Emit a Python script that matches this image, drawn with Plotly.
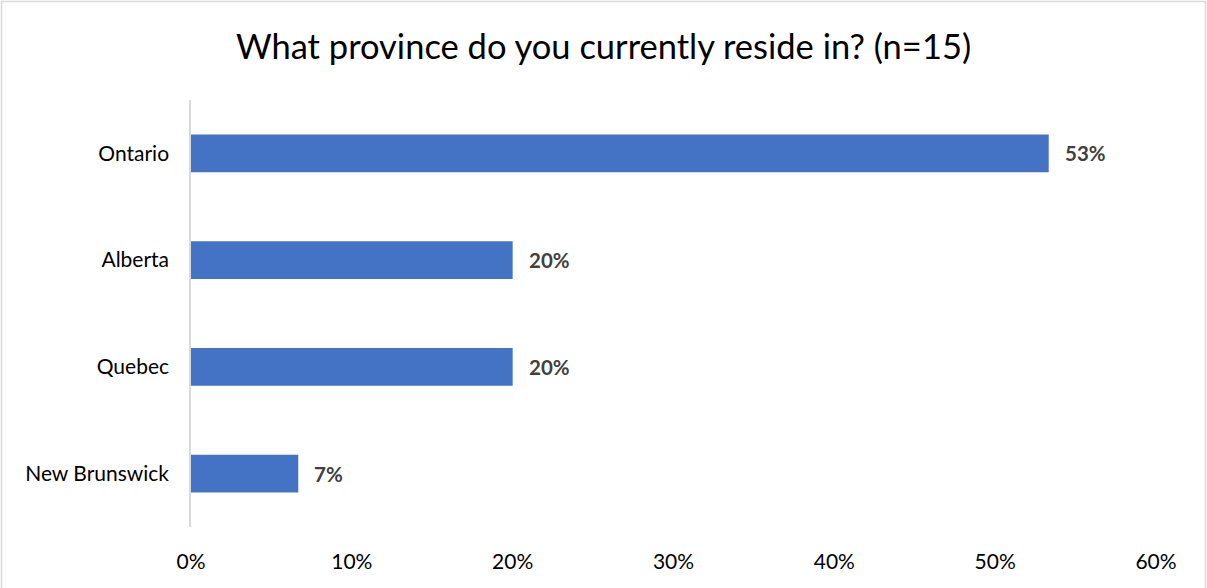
import plotly.graph_objects as go

# Survey responses: share of respondents by province (n=15)
provinces = ["Ontario", "Alberta", "Quebec", "New Brunswick"]
shares = [0.5333, 0.20, 0.20, 0.0667]
tick_values = [0, 0.1, 0.2, 0.3, 0.4, 0.5, 0.6]
tick_labels = ["0%", "10%", "20%", "30%", "40%", "50%", "60%"]

W, H = 1207, 588
M = dict(l=191, r=51, t=100, b=61)
FONT = "Lato, 'Open Sans', sans-serif"
BAR_COLOR = "#4472C4"

fig = go.Figure(
    go.Bar(
        x=shares,
        y=provinces,
        orientation="h",
        marker=dict(color=BAR_COLOR, line=dict(width=0)),
        hovertemplate="%{y}: %{x:.0%}<extra></extra>",
    )
)

# value labels to the right of each bar
for p, s in zip(provinces, shares):
    fig.add_annotation(
        x=s, y=p, xref="x", yref="y",
        text=f"<b>{s:.0%}</b>",
        showarrow=False, xanchor="left", yanchor="middle", xshift=14,
        font=dict(family=FONT, size=20.5, color="#404040"),
    )

# light frame around the whole chart area (bottom edge runs past the page)
pw = W - M["l"] - M["r"]
ph = H - M["t"] - M["b"]
fig.add_shape(
    type="rect", xref="paper", yref="paper",
    x0=(1.5 - M["l"]) / pw, x1=(W - 1.5 - M["l"]) / pw,
    y0=-(M["b"] + 10) / ph, y1=(H - 1.5 - M["b"]) / ph,
    line=dict(color="#D9D9D9", width=1.5), fillcolor="rgba(0,0,0,0)", layer="below",
)

fig.update_layout(
    width=W, height=H,
    margin=M,
    paper_bgcolor="white",
    plot_bgcolor="white",
    bargap=0.645,
    showlegend=False,
    title=dict(
        text="What province do you currently reside in? (n=15)",
        x=0.5, xanchor="center", xref="container",
        y=1 - 47 / H, yanchor="middle", yref="container",
        font=dict(family=FONT, size=34.5, color="#000000"),
    ),
    xaxis=dict(
        range=[0, 0.6],
        tickvals=tick_values,
        ticktext=tick_labels,
        showgrid=False, zeroline=False, showline=False,
        ticks="", ticklabelstandoff=20,
        tickfont=dict(family=FONT, size=21, color="#000000"),
        fixedrange=True,
    ),
    yaxis=dict(
        categoryorder="array",
        categoryarray=provinces[::-1],
        showgrid=False, zeroline=False,
        showline=True, linecolor="#D9D9D9", linewidth=1.5,
        ticks="", ticklabelstandoff=16,
        tickfont=dict(family=FONT, size=21, color="#000000"),
        fixedrange=True,
    ),
)

fig.write_html("out.html")
